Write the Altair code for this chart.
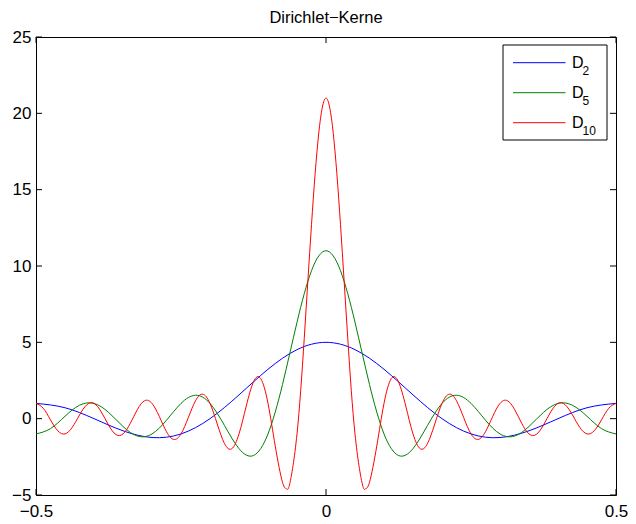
import altair as alt
import pandas as pd

# ---- data ----
x_d2 = [-0.5, -0.45, -0.4, -0.35, -0.3, -0.25, -0.2, -0.15, -0.1, -0.05, 0.0,
        0.05, 0.1, 0.15, 0.2, 0.25, 0.3, 0.35, 0.4, 0.45, 0.5]
y_d2 = [1.000, 0.716, 0.0, -0.794, -1.236, -1.000, 0.0, 1.557, 3.236, 4.521, 5.0,
        4.521, 3.236, 1.557, 0.0, -1.000, -1.236, -0.794, 0.0, 0.716, 1.000]

x_d5 = [-0.5, -0.475, -0.45, -0.425, -0.4, -0.375, -0.35, -0.325, -0.3, -0.275,
        -0.25, -0.225, -0.2, -0.175, -0.15, -0.125, -0.1, -0.075, -0.05,
        -0.025, 0.0,
        0.025, 0.05, 0.075, 0.1, 0.125, 0.15, 0.175, 0.2, 0.225, 0.25,
        0.275, 0.3, 0.325, 0.35, 0.375, 0.4, 0.425, 0.45, 0.475, 0.5]
y_d5 = [-1.000, -0.651, 0.158, 0.877, 1.000, 0.414, -0.510, -1.141, -1.000, -0.103,
        1.000, 1.535, 1.000, -0.447, -1.963, -2.414, -1.000, 2.238, 6.315,
        9.691, 11.0,
        9.691, 6.315, 2.238, -1.000, -2.414, -1.963, -0.447, 1.000, 1.535, 1.000,
        -0.103, -1.000, -1.141, -0.510, 0.414, 1.000, 0.877, 0.158, -0.651, -1.000]

x_d10 = [-0.5, -0.4875, -0.475, -0.4625, -0.45, -0.4375, -0.425, -0.4125, -0.4,
         -0.3875, -0.375, -0.3625, -0.35, -0.3375, -0.325, -0.3125, -0.3, -0.2875,
         -0.275, -0.2625, -0.25, -0.2375, -0.225, -0.2125, -0.2, -0.1875, -0.175,
         -0.1625, -0.15, -0.1375, -0.125, -0.1125, -0.1, -0.0875, -0.075, -0.068,
         -0.0625, -0.05, -0.0375, -0.025, -0.0125, 0.0,
         0.0125, 0.025, 0.0375, 0.05, 0.0625, 0.068, 0.075, 0.0875, 0.1, 0.1125,
         0.125, 0.1375, 0.15, 0.1625, 0.175, 0.1875, 0.2, 0.2125, 0.225, 0.2375,
         0.25, 0.2625, 0.275, 0.2875, 0.3, 0.3125, 0.325, 0.3375, 0.35, 0.3625,
         0.375, 0.3875, 0.4, 0.4125, 0.425, 0.4375, 0.45, 0.4625, 0.475, 0.4875, 0.5]
y_d10 = [1.000, 0.679, -0.079, -0.791, -1.000, -0.567, 0.240, 0.907, 1.000,
         0.446, -0.414, -1.033, -1.000, -0.311, 0.613, 1.180, 1.000, 0.150,
         -0.854, -1.361, -1.000, 0.058, 1.171, 1.604, 1.000, -0.351, -1.632,
         -1.970, -1.000, 0.827, 2.414, 2.624, 1.000, -1.800, -4.166, -4.596,
         -4.262, -1.000, 5.269, 12.706, 18.700, 21.0,
         18.700, 12.706, 5.269, -1.000, -4.262, -4.596, -4.166, -1.800, 1.000, 2.624,
         2.414, 0.827, -1.000, -1.970, -1.632, -0.351, 1.000, 1.604, 1.171, 0.058,
         -1.000, -1.361, -0.854, 0.150, 1.000, 1.180, 0.613, -0.311, -1.000, -1.033,
         -0.414, 0.446, 1.000, 0.907, 0.240, -0.567, -1.000, -0.791, -0.079, 0.679, 1.000]

series_names = ["D2", "D5", "D10"]
series_colors = ["#0000ff", "#008000", "#ff0000"]
legend_subs = ["2", "5", "10"]
x_ticks = [-0.5, 0, 0.5]
y_ticks = [-5, 0, 5, 10, 15, 20, 25]
title_text = "Dirichlet\u2212Kerne"

W, H = 580, 458
FONT = "Liberation Sans"

frames = []
for name, xs, ys in [("D2", x_d2, y_d2), ("D5", x_d5, y_d5), ("D10", x_d10, y_d10)]:
    frames.append(pd.DataFrame({"x": xs, "y": ys, "series": name}))
df = pd.concat(frames, ignore_index=True)

xscale = alt.Scale(domain=[-0.5, 0.5], nice=False, zero=False)
yscale = alt.Scale(domain=[-5, 25], nice=False, zero=False)
ax_x = alt.Axis(values=x_ticks, format="~g", title=None, labelFlush=False,
                labelOverlap=False, labelPadding=8, domain=False, ticks=False, grid=False)
ax_y = alt.Axis(values=y_ticks, format="d", title=None, labelFlush=False,
                labelOverlap=False, labelPadding=5, domain=False, ticks=False, grid=False)

base = alt.Chart(df)
layers = []
for name, col in zip(series_names, series_colors):
    layers.append(
        base.transform_filter(alt.datum.series == name)
        .mark_line(color=col, strokeWidth=1, interpolate="natural", clip=True)
        .encode(x=alt.X("x:Q", scale=xscale, axis=ax_x),
                y=alt.Y("y:Q", scale=yscale, axis=ax_y),
                order="x:Q")
    )

# inward ticks on all four sides
xt = pd.DataFrame({"x": x_ticks})
yt = pd.DataFrame({"y": y_ticks})
TL = 6
tick_layers = [
    alt.Chart(xt).mark_rule(color="black", strokeWidth=1).encode(
        x=alt.X("x:Q", scale=xscale, axis=ax_x), y=alt.value(H), y2=alt.value(H - TL)),
    alt.Chart(xt).mark_rule(color="black", strokeWidth=1).encode(
        x=alt.X("x:Q", scale=xscale, axis=ax_x), y=alt.value(0), y2=alt.value(TL)),
    alt.Chart(yt).mark_rule(color="black", strokeWidth=1).encode(
        y=alt.Y("y:Q", scale=yscale, axis=ax_y), x=alt.value(0), x2=alt.value(TL)),
    alt.Chart(yt).mark_rule(color="black", strokeWidth=1).encode(
        y=alt.Y("y:Q", scale=yscale, axis=ax_y), x=alt.value(W), x2=alt.value(W - TL)),
]

# title as text above the plot
one = pd.DataFrame({"t": [title_text]})
title_layer = alt.Chart(one).mark_text(
    align="center", baseline="alphabetic", font=FONT, fontSize=16.5, color="black"
).encode(x=alt.value(W / 2), y=alt.value(-14.3), text="t:N")

# legend (box, lines, D with subscript)
BR = W - 9
legend_layers = [
    alt.Chart(one).mark_rect(fill="white", stroke="black", strokeWidth=1).encode(
        x=alt.value(BR - 104), x2=alt.value(BR), y=alt.value(8), y2=alt.value(103))
]
for i, (sub, col) in enumerate(zip(legend_subs, series_colors)):
    ly = 25.7 + 30 * i
    ldf = pd.DataFrame({"main": ["D"], "sub": [sub]})
    legend_layers.append(
        alt.Chart(ldf).mark_rule(color=col, strokeWidth=1).encode(
            x=alt.value(BR - 94), x2=alt.value(BR - 41.5), y=alt.value(ly)))
    legend_layers.append(
        alt.Chart(ldf).mark_text(align="left", baseline="middle", font=FONT,
                                 fontSize=16, color="black").encode(
            x=alt.value(BR - 35), y=alt.value(ly), text="main:N"))
    legend_layers.append(
        alt.Chart(ldf).mark_text(align="left", baseline="middle", font=FONT,
                                 fontSize=12, color="black").encode(
            x=alt.value(BR - 24.5), y=alt.value(ly + 8), text="sub:N"))

chart = alt.layer(*layers, *tick_layers, title_layer, *legend_layers).properties(
    width=W, height=H,
    autosize=alt.AutoSizeParams(type="none"),
    padding={"left": 28, "top": 29, "right": 12, "bottom": 28},
    background="white",
).configure_view(stroke="black", strokeWidth=1).configure_axis(
    labelFont=FONT, labelFontSize=17, labelColor="black")

chart.save("out.html", embed_options={"renderer": "svg", "actions": False})
